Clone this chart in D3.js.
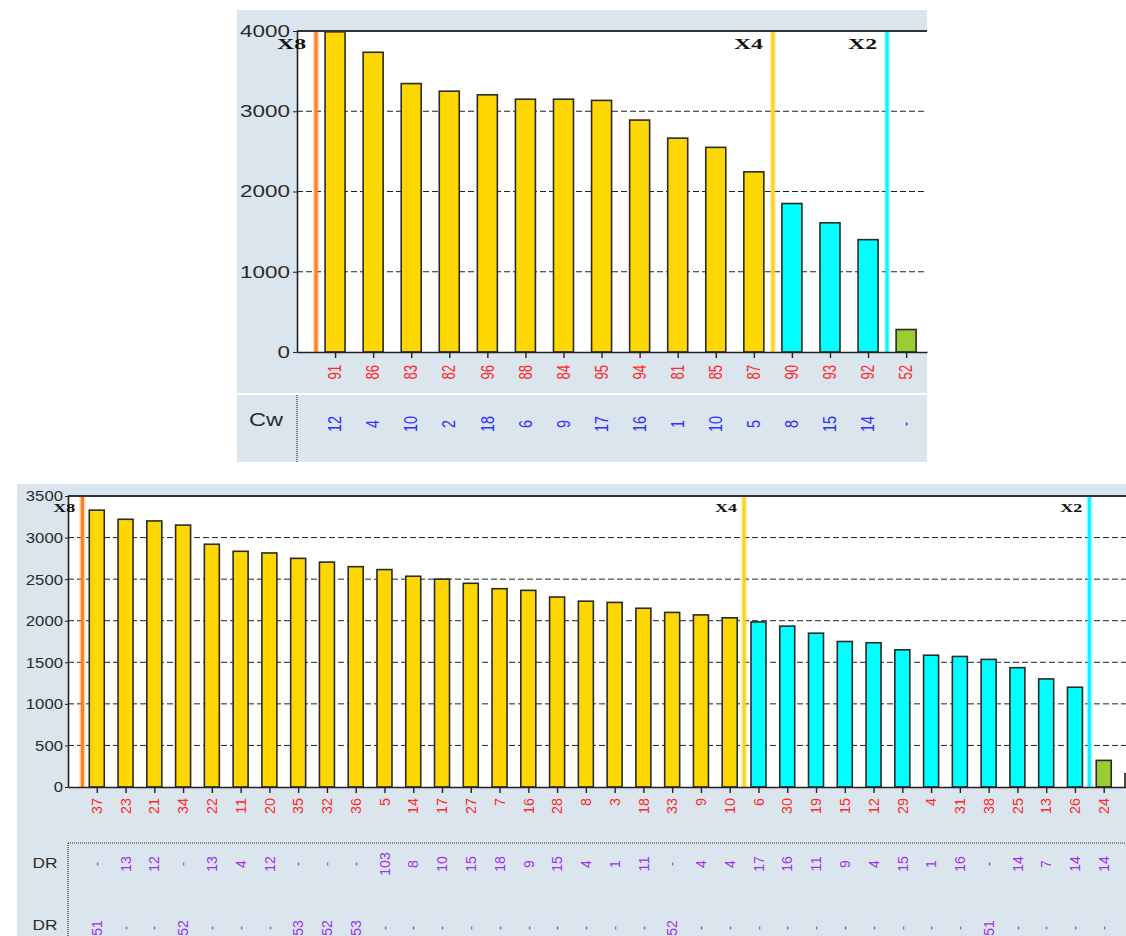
<!DOCTYPE html>
<html>
<head>
<meta charset="utf-8">
<script src="https://cdn.jsdelivr.net/npm/d3@7"></script>
<style>
  body { margin: 0; background: #fff; }
  svg { display: block; font-family: "Liberation Sans", Arial, sans-serif; }
</style>
</head>
<body>
<script>
// upper chart
const topCats = ["91","86","83","82","96","88","84","95","94","81","85","87","90","93","92","52"];
const topValues = [3990,3735,3345,3250,3205,3150,3150,3135,2890,2665,2550,2245,1850,1610,1400,280];
const topTier = [4,4,4,4,4,4,4,4,4,4,4,4,2,2,2,1];
const topCw = ["12","4","10","2","18","6","9","17","16","1","10","5","8","15","14","-"];
const topYTicks = [0,1000,2000,3000,4000];
const topMarkers = ["X8","X4","X2"];
const topMarkerAt = [0,12,15];

// lower chart (last bar is cut off by the window edge)
const botCats = ["37","23","21","34","22","11","20","35","32","36","5","14","17","27","7","16","28","8","3","18","33","9","10","6","30","19","15","12","29","4","31","38","25","13","26","24","1"];
const botValues = [3330,3220,3200,3150,2920,2835,2815,2750,2705,2650,2615,2535,2500,2450,2385,2365,2285,2235,2220,2150,2100,2070,2035,1985,1935,1850,1750,1735,1650,1585,1570,1535,1435,1300,1200,320,160];
const botTier = [4,4,4,4,4,4,4,4,4,4,4,4,4,4,4,4,4,4,4,4,4,4,4,2,2,2,2,2,2,2,2,2,2,2,2,1,1];
const botDR1 = ["-","13","12","-","13","4","12","-","-","-","103","8","10","15","18","9","15","4","1","11","-","4","4","17","16","11","9","4","15","1","16","-","14","7","14","14",""];
const botDR2 = ["51","-","-","52","-","-","-","53","52","53","-","-","-","-","-","-","-","-","-","-","52","-","-","-","-","-","-","-","-","-","-","51","-","-","-","-",""];
const botYTicks = [0,500,1000,1500,2000,2500,3000,3500];
const botMarkers = ["X8","X4","X2"];
const botMarkerAt = [0,23,35];

const tierColor = {4: "#ffd700", 2: "#00ffff", 1: "#9acd32"};
const markerColor = {X8: "#ff8020", X4: "#ffd21a", X2: "#10f0ff"};

const svg = d3.select("body").append("svg")
  .attr("width", 1126)
  .attr("height", 936);

function drawChart(o) {
  const g = svg.append("g");

  g.append("rect")
    .attr("x", o.px).attr("y", o.py)
    .attr("width", o.pw).attr("height", o.ph)
    .attr("fill", "#dbe5ee");

  const x = d3.scaleLinear()
    .domain([-1, (o.right - o.left) / o.step - 1])
    .range([o.left, o.right]);
  const y = d3.scaleLinear()
    .domain([0, o.yMax])
    .range([o.bottom, o.top]);

  g.append("rect")
    .attr("x", o.left).attr("y", o.top)
    .attr("width", o.right - o.left).attr("height", o.bottom - o.top)
    .attr("fill", "#fff");

  // dashed grid
  g.selectAll(".grid")
    .data(o.yTicks.filter(t => t > 0 && t < o.yMax))
    .join("line")
    .attr("x1", o.left).attr("x2", o.right)
    .attr("y1", d => y(d)).attr("y2", d => y(d))
    .attr("stroke", "#222")
    .attr("stroke-dasharray", "6,3");

  // marker lines
  o.markers.forEach(function (m, k) {
    const mx = x(o.markerAt[k] - 0.5);
    g.append("line")
      .attr("x1", mx).attr("x2", mx).attr("y1", o.top).attr("y2", o.bottom)
      .attr("stroke", markerColor[m]).attr("stroke-opacity", 0.35).attr("stroke-width", 6);
    g.append("line")
      .attr("x1", mx).attr("x2", mx).attr("y1", o.top).attr("y2", o.bottom)
      .attr("stroke", markerColor[m]).attr("stroke-width", 3);
  });

  // bars
  g.selectAll(".bar")
    .data(o.values)
    .join("rect")
    .attr("x", (d, i) => x(i) - o.barW / 2)
    .attr("y", d => y(d))
    .attr("width", o.barW)
    .attr("height", d => o.bottom - y(d))
    .attr("fill", (d, i) => tierColor[o.tier[i]])
    .attr("stroke", "#2a2a2a")
    .attr("stroke-width", 1.6);

  // frame top
  g.append("line")
    .attr("x1", o.left).attr("x2", o.right)
    .attr("y1", o.top).attr("y2", o.top)
    .attr("stroke", "#333").attr("stroke-width", 2);

  // y axis
  const yAxis = g.append("g")
    .attr("transform", "translate(" + o.left + ",0)")
    .call(d3.axisLeft(y).tickValues(o.yTicks).tickFormat(d3.format("d"))
      .tickSize(o.yTick).tickSizeOuter(0).tickPadding(o.yPad));
  yAxis.select(".domain").attr("stroke", "#222").attr("stroke-width", 1.6);
  yAxis.selectAll(".tick line").attr("stroke", "#222");
  yAxis.selectAll("text")
    .attr("font-family", "'Liberation Sans', Arial, sans-serif")
    .attr("font-size", o.yFont)
    .attr("fill", "#2b2b2b")
    .attr("textLength", d => String(d).length * o.yDigitW)
    .attr("lengthAdjust", "spacingAndGlyphs");

  // x axis
  const xAxis = g.append("g")
    .attr("transform", "translate(0," + o.bottom + ")")
    .call(d3.axisBottom(x).tickValues(d3.range(o.cats.length)).tickSize(6).tickSizeOuter(0).tickFormat(""));
  xAxis.select(".domain").attr("stroke", "#222").attr("stroke-width", 1.6);
  xAxis.selectAll(".tick line").attr("stroke", "#222").attr("stroke-width", 1.4);

  // rotated category labels
  g.selectAll(".cat")
    .data(o.cats)
    .join("text")
    .attr("transform", (d, i) => "translate(" + x(i) + "," + o.catY + ") scale(" + o.sx + ",1) rotate(-90)")
    .attr("text-anchor", "end")
    .attr("dominant-baseline", "central")
    .attr("font-size", o.catFont)
    .attr("fill", "#ff2a2a")
    .attr("textLength", d => d.length * o.catDigitW)
    .attr("lengthAdjust", "spacingAndGlyphs")
    .text(d => d);

  // value rows below the chart
  o.rows.forEach(function (r) {
    g.append("text")
      .attr("x", r.nameX).attr("y", r.nameY)
      .attr("text-anchor", "middle")
      .attr("dominant-baseline", "central")
      .attr("font-size", r.nameFont)
      .attr("fill", "#2b2b2b")
      .attr("textLength", r.nameW)
      .attr("lengthAdjust", "spacingAndGlyphs")
      .text(r.name);
    g.selectAll(null)
      .data(r.values.filter(d => d !== ""))
      .join("text")
      .attr("transform", (d, i) => "translate(" + x(i) + "," + r.y + ") scale(" + o.sx + ",1) rotate(-90)")
      .attr("text-anchor", "middle")
      .attr("dominant-baseline", "central")
      .attr("font-size", r.font)
      .attr("fill", r.color)
      .attr("textLength", d => d === "-" ? 4 : d.length * r.digitW)
      .attr("lengthAdjust", "spacingAndGlyphs")
      .text(d => d);
  });

  // separators
  o.seps.forEach(function (s) {
    g.append("line")
      .attr("x1", s[0]).attr("y1", s[1]).attr("x2", s[2]).attr("y2", s[3])
      .attr("stroke", s[4]).attr("stroke-width", s[5])
      .attr("stroke-dasharray", s[6]);
  });

  // marker labels
  o.markers.forEach(function (m, k) {
    const mx = x(o.markerAt[k] - 0.5);
    g.append("text")
      .attr("x", mx - o.mGap).attr("y", o.mY)
      .attr("text-anchor", "end")
      .attr("dominant-baseline", "central")
      .attr("font-family", "'Liberation Serif', 'DejaVu Serif', serif")
      .attr("font-weight", "bold")
      .attr("font-size", o.mFont)
      .attr("fill", "#111")
      .attr("textLength", o.mW)
      .attr("lengthAdjust", "spacingAndGlyphs")
      .text(m);
  });
}

drawChart({
  px: 237, py: 10, pw: 690, ph: 452,
  left: 297, right: 927, top: 31, bottom: 352, step: 38.07,
  yMax: 4000, yTicks: topYTicks, yTick: 4, yPad: 3,
  yFont: 16.5, yDigitW: 12.5,
  cats: topCats, values: topValues, tier: topTier, barW: 20,
  sx: 1.3, catY: 365, catFont: 13.5, catDigitW: 7.3,
  markers: topMarkers, markerAt: topMarkerAt,
  mGap: 10, mY: 44, mFont: 14, mW: 29,
  rows: [
    {name: "Cw", nameX: 266, nameY: 420, nameFont: 18, nameW: 34, values: topCw, y: 424,
     color: "#3030ff", font: 14.5, digitW: 8}
  ],
  seps: [
    [237, 394, 927, 394, "#fff", 2, null],
    [297, 395, 297, 462, "#333", 1.2, "1,1"]
  ]
});

drawChart({
  px: 17, py: 484, pw: 1109, ph: 452,
  left: 68, right: 1126, top: 496, bottom: 787, step: 28.77,
  yMax: 3500, yTicks: botYTicks, yTick: 3, yPad: 2,
  yFont: 15.5, yDigitW: 9.3,
  cats: botCats, values: botValues, tier: botTier, barW: 15,
  sx: 1.08, catY: 798, catFont: 14, catDigitW: 8,
  markers: botMarkers, markerAt: botMarkerAt,
  mGap: 7, mY: 508, mFont: 12.5, mW: 22,
  rows: [
    {name: "DR", nameX: 45, nameY: 862, nameFont: 15, nameW: 25, values: botDR1, y: 864,
     color: "#a030f0", font: 14, digitW: 7.8},
    {name: "DR", nameX: 45, nameY: 924, nameFont: 15, nameW: 25, values: botDR2, y: 928,
     color: "#a030f0", font: 14, digitW: 7.8}
  ],
  seps: [
    [68, 843, 1126, 843, "#333", 1.2, "1,1"],
    [68, 843, 68, 936, "#333", 1.2, "1,1"]
  ]
});
</script>
</body>
</html>
